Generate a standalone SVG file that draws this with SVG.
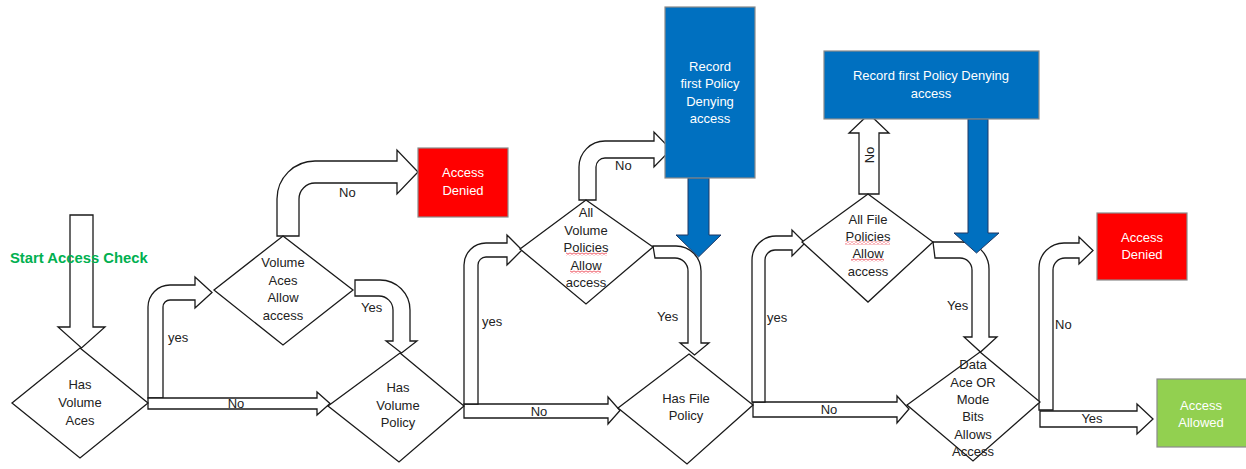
<svg xmlns="http://www.w3.org/2000/svg" width="1246" height="469" viewBox="0 0 1246 469">
<style>
text{font-family:"Liberation Sans",Arial,sans-serif;font-size:13px;fill:#222;text-anchor:middle}
.lbl{text-anchor:start}
.w{fill:#fff}
.start{fill:#00B050;font-weight:bold;font-size:14.8px;text-anchor:start}
.dia{fill:#fff;stroke:#1a1a1a;stroke-width:1.3}
.blk{fill:#fff;stroke:#1a1a1a;stroke-width:1.3;stroke-linejoin:miter}
.blue{fill:#0070C0;stroke:#1F3864;stroke-width:1}
.red{fill:#FF0000;stroke:#8a8a8a;stroke-width:1.2}
.bbox{fill:#0070C0;stroke:#8a8a8a;stroke-width:1.2}
.grn{fill:#92D050;stroke:#8a8a8a;stroke-width:1.2}
</style>
<defs>
<pattern id="wavy" width="4" height="3" patternUnits="userSpaceOnUse">
<path d="M0,2.3 L2,0.7 L4,2.3" fill="none" stroke="#E81123" stroke-width="0.8"/>
</pattern>
</defs>

<g id="connectors">
<path class="blk" d="M70,215 H93 V327 H105 L81.5,348 L58,327 H70 Z"/>
<path class="blk" d="M148,398 V307 A22,22 0 0 1 170,285 H195 V277 L212,292.5 L195,308 V300 H170 A7,7 0 0 0 163,307 V398 Z"/>
<path class="blk" d="M148,398 H317 V392 L330,403.5 L317,415 V409 H148 Z"/>
<path class="blk" d="M277,236 V199 A38,38 0 0 1 315,161 H397 V150 L418,172 L397,194 V183 H315 A16,16 0 0 0 299,199 V236 Z"/>
<path class="blk" d="M355,280 H380 A30,30 0 0 1 410,310 V341 H417 L401.5,353 L386,341 H393 V310 A14,14 0 0 0 379,296 H355 Z"/>
<path class="blk" d="M464,404 H608 V397 L620,410.5 L608,424 V418 H464 Z"/>
<path class="blk" d="M464,404 V265 A22,22 0 0 1 486,243 H507 V235 L522,250 L507,265 V257 H486 A8,8 0 0 0 478,265 V404 Z"/>
<path class="blk" d="M579,200 V167 A26,26 0 0 1 605,141 H654 V132 L671,149.5 L654,167 V158 H605 A9,9 0 0 0 596,167 V200 Z"/>
<path class="blk" d="M653,246 H676 A25,25 0 0 1 701,271 V343 H709 L694.5,355 L680,343 H688 V271 A13,13 0 0 0 675,258 H655 Z"/>
<path class="blk" d="M753,402 H897 V396 L909,409 L897,423 V417 H753 Z"/>
<path class="blk" d="M752,402 V260 A24,24 0 0 1 776,236 H792 V230 L805,243 L792,256 V250 H775 A10,10 0 0 0 765,260 V402 Z"/>
<path class="blk" d="M859,194 V133 H849 L869,114 L889,133 H879 V194 Z"/>
<path class="blk" d="M933,242 H962 A27,27 0 0 1 989,269 V337 H997 L980.5,352 L964,337 H972 V270 A12,12 0 0 0 960,258 H935 Z"/>
<path class="blk" d="M1039,410 V268 A25,25 0 0 1 1064,243 H1079 V237 L1093,250.5 L1079,264 V258 H1065 A12,12 0 0 0 1053,270 V410 Z"/>
<path class="blk" d="M1040,411 H1137 V404 L1153,419 L1137,434 V427 H1040 Z"/>
<path class="blue" d="M688,178 H709 V235 H721 L698.5,257 L676,235 H688 Z"/>
<path class="blue" d="M968,119 H988 V233 H999 L976.5,253 L954,233 H968 Z"/>
<text class="lbl" x="168" y="342">yes</text>
<text x="236" y="408">No</text>
<text class="lbl" x="339" y="197">No</text>
<text class="lbl" x="361" y="312">Yes</text>
<text x="539" y="416">No</text>
<text class="lbl" x="482" y="326">yes</text>
<text class="lbl" x="615" y="170">No</text>
<text class="lbl" x="657" y="321">Yes</text>
<text x="829" y="414">No</text>
<text class="lbl" x="767" y="322">yes</text>
<text transform="translate(874,155) rotate(-90)">No</text>
<text class="lbl" x="947" y="310">Yes</text>
<text class="lbl" x="1055" y="329">No</text>
<text x="1092" y="423">Yes</text>
</g>

<text class="start" x="10" y="263">Start Access Check</text>

<g id="hasVolumeAces">
<polygon class="dia" points="80,348 148,403 80,458 12,403"/>
<text x="80" y="389">Has</text><text x="80" y="407">Volume</text><text x="80" y="425">Aces</text>
</g>
<g id="volumeAcesAllow">
<polygon class="dia" points="283,236 353,290 283,345 214,290"/>
<text x="283" y="267">Volume</text><text x="283" y="285">Aces</text><text x="283" y="302">Allow</text><text x="283" y="320">access</text>
</g>
<g id="hasVolumePolicy">
<polygon class="dia" points="400,353 464,406 399,462 328,406"/>
<text x="398" y="392">Has</text><text x="398" y="410">Volume</text><text x="398" y="427">Policy</text>
</g>
<g id="allVolumePolicies">
<polygon class="dia" points="586,200 653,247 586,304 520,249"/>
<text x="586" y="217">All</text><text x="586" y="235">Volume</text><text x="586" y="252">Policies</text><text x="586" y="270">Allow</text><text x="586" y="287">access</text>
<rect x="566" y="252.5" width="41" height="3" fill="url(#wavy)"/>
<rect x="570" y="270.5" width="31" height="3" fill="url(#wavy)"/>
</g>
<g id="hasFilePolicy">
<polygon class="dia" points="689,354 753,405 687,464 618,408"/>
<text x="686" y="403">Has File</text><text x="686" y="420">Policy</text>
</g>
<g id="allFilePolicies">
<polygon class="dia" points="868,194 933,242 868,302 802,242"/>
<text x="868" y="224">All File</text><text x="868" y="241">Policies</text><text x="868" y="258">Allow</text><text x="868" y="276">access</text>
<rect x="845" y="241.5" width="45" height="3" fill="url(#wavy)"/>
<rect x="851" y="258.5" width="33" height="3" fill="url(#wavy)"/>
</g>
<g id="dataAceModeBits">
<polygon class="dia" points="980,352 1040,402 973,461 907,405"/>
<text x="973" y="369">Data</text><text x="973" y="387">Ace OR</text><text x="973" y="404">Mode</text><text x="973" y="421">Bits</text><text x="973" y="439">Allows</text><text x="973" y="456">Access</text>
</g>
<g id="accessDenied1">
<rect class="red" x="418" y="148" width="90" height="69"/>
<text class="w" x="463" y="177">Access</text><text class="w" x="463" y="195">Denied</text>
</g>
<g id="recordDeny1">
<rect class="bbox" x="665" y="7" width="90" height="171"/>
<text class="w" x="710" y="71">Record</text><text class="w" x="710" y="88">first Policy</text><text class="w" x="710" y="106">Denying</text><text class="w" x="710" y="123">access</text>
</g>
<g id="recordDeny2">
<rect class="bbox" x="824" y="51" width="215" height="68"/>
<text class="w" x="931" y="80">Record first Policy Denying</text><text class="w" x="931" y="98">access</text>
</g>
<g id="accessDenied2">
<rect class="red" x="1097" y="213" width="90" height="67"/>
<text class="w" x="1142" y="242">Access</text><text class="w" x="1142" y="259">Denied</text>
</g>
<g id="accessAllowed">
<rect class="grn" x="1157" y="379" width="90" height="68"/>
<text class="w" x="1201" y="410">Access</text><text class="w" x="1201" y="427">Allowed</text>
</g>
</svg>
